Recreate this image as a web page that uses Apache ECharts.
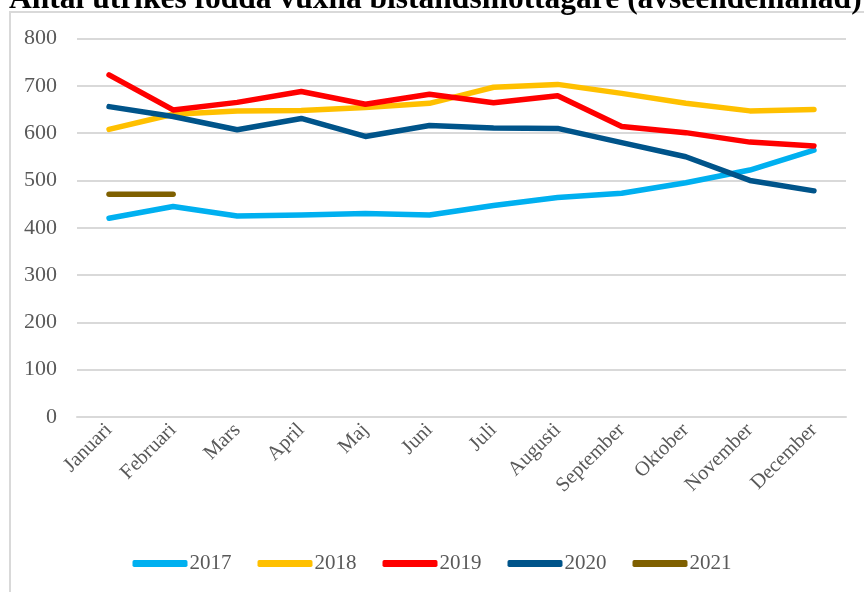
<!DOCTYPE html>
<html>
<head>
<meta charset="utf-8">
<script src="https://cdn.jsdelivr.net/npm/echarts@6/dist/echarts.min.js"></script>
<style>
  html, body { margin: 0; padding: 0; background: #fff; }
  #main { width: 864px; height: 592px; }
</style>
</head>
<body>
<div id="main"></div>
<script>
var months = ['Januari', 'Februari', 'Mars', 'April', 'Maj', 'Juni', 'Juli', 'Augusti', 'September', 'Oktober', 'November', 'December'];
var years = ['2017', '2018', '2019', '2020', '2021'];
var colors = ['#00B0F0', '#FFC000', '#FF0000', '#00548A', '#7F6000'];

var v2017 = [420, 445, 425, 427, 430, 427, 447, 464, 473, 495, 522, 564];
var v2018 = [608, 640, 647, 648, 654, 663, 697, 703, 684, 663, 647, 650];
var v2019 = [723, 649, 665, 688, 661, 682, 664, 679, 614, 601, 581, 573];
var v2020 = [656, 635, 607, 631, 593, 616, 611, 610, 580, 550, 500, 478];
var v2021 = [471, 471];

var values = [v2017, v2018, v2019, v2020, v2021];
var serif = '"Liberation Serif", "DejaVu Serif", serif';

var myChart = echarts.init(document.getElementById('main'));

var option = {
    animation: false,
    title: {
        text: 'Antal utrikes födda vuxna biståndsmottagare (avseendemånad)',
        left: 4,
        top: -21,
        textStyle: { fontFamily: serif, fontWeight: 'bold', fontSize: 31.5, color: '#000' }
    },
    graphic: [{
        type: 'rect',
        shape: { x: 10, y: 12, width: 900, height: 700 },
        style: { fill: 'none', stroke: '#d9d9d9', lineWidth: 2 },
        z: -1
    }],
    grid: { left: 77, right: 18, top: 38.5, bottom: 175 },
    legend: {
        bottom: 13,
        left: 'center',
        itemWidth: 55,
        itemHeight: 7,
        itemGap: 26,
        textStyle: { fontFamily: serif, fontSize: 21, color: '#595959', padding: [0, 0, 0, -3] },
        data: years.map(function (y, i) {
            return { name: y, icon: 'roundRect', itemStyle: { color: colors[i] } };
        })
    },
    xAxis: {
        type: 'category',
        data: months,
        boundaryGap: true,
        axisLine: { show: true, lineStyle: { color: '#d9d9d9', width: 2 } },
        axisTick: { show: false },
        axisLabel: {
            rotate: 45,
            interval: 0,
            margin: 10,
            fontFamily: serif,
            fontSize: 20.5,
            color: '#595959'
        }
    },
    yAxis: {
        type: 'value',
        min: 0,
        max: 800,
        interval: 100,
        axisLine: { show: false },
        axisTick: { show: false },
        axisLabel: { fontFamily: serif, fontSize: 22, color: '#595959', margin: 20 },
        splitLine: { lineStyle: { color: '#d9d9d9', width: 2 } }
    },
    series: years.map(function (y, i) {
        return {
            name: y,
            type: 'line',
            data: values[i],
            showSymbol: false,
            symbol: 'none',
            color: colors[i],
            lineStyle: { width: 5.5, color: colors[i], cap: 'round', join: 'round' }
        };
    })
};
myChart.setOption(option);
</script>
</body>
</html>
